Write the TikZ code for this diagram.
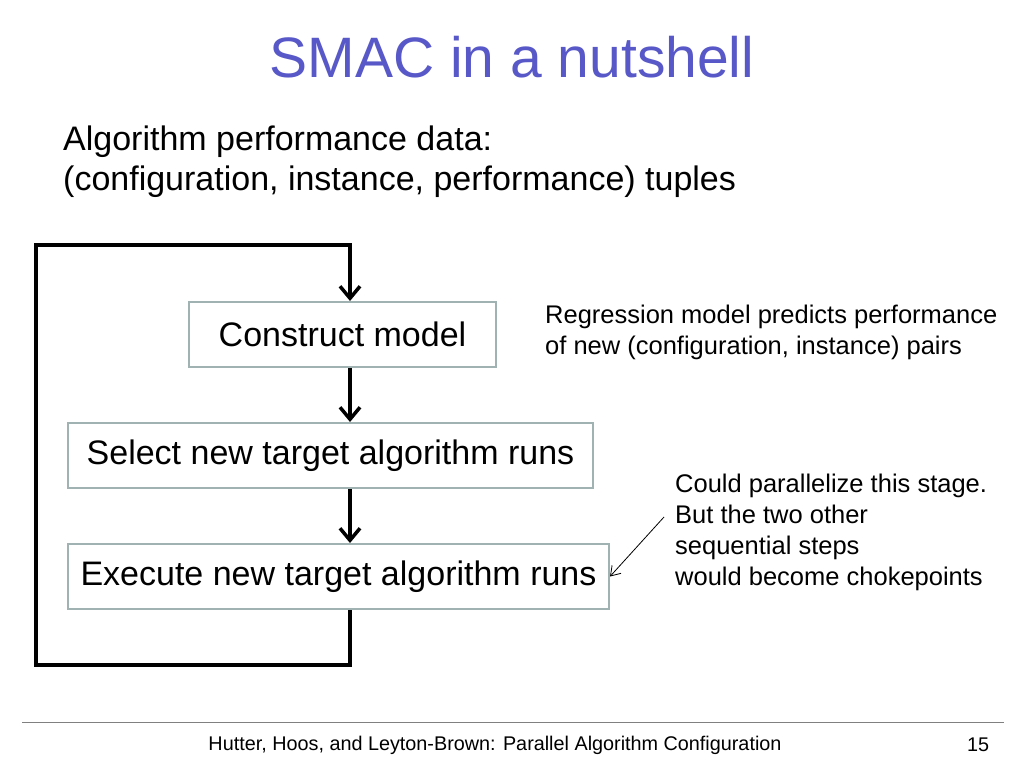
\documentclass[tikz,border=0pt]{standalone}
\usepackage{fontspec}
\setmainfont{Liberation Sans}
\usetikzlibrary{arrows.meta}
\definecolor{titleblue}{RGB}{88,88,200}
\definecolor{boxgray}{RGB}{160,178,178}
\tikzset{
  stagebox/.style={draw=boxgray,line width=2pt,inner sep=0pt,font=\fontsize{34}{38}\selectfont},
  loopline/.style={line width=4pt,-{Straight Barb[length=12pt,width=20pt,line width=3.5pt]}},
  note/.style={align=left,anchor=north west,inner sep=0pt,font=\fontsize{25.5}{31}\selectfont}
}
\begin{document}
\begin{tikzpicture}[x=1pt,y=-1pt]
  \useasboundingbox (0,0) rectangle (1024,768);
  \node[text=titleblue,font=\fontsize{57}{62}\selectfont] (title) at (512,57) {SMAC in a nutshell};
  \node[anchor=west,inner sep=0pt,font=\fontsize{34}{38}\selectfont] (data1) at (63,142) {Algorithm performance data:};
  \node[anchor=west,inner sep=0pt,font=\fontsize{34}{38}\selectfont] (data2) at (63,182) {(configuration, instance, performance) tuples};
  % stages
  \node[stagebox,minimum width=307pt,minimum height=65pt] (model) at (342.5,334.5) {Construct model};
  \node[stagebox,minimum width=525pt,minimum height=65pt] (select) at (330.5,455.5) {Select new target algorithm runs};
  \node[stagebox,minimum width=541pt,minimum height=65pt] (execute) at (338.5,576.5) {Execute new target algorithm runs};
  \coordinate (loopa) at (350,665);
  \coordinate (loopb) at (36,665);
  \coordinate (loopc) at (36,245);
  \coordinate (loopd) at (350,245);
  \draw[loopline] (execute.south -| loopa) -- (loopa) -- (loopb) -- (loopc) -- (loopd) -- (loopd |- model.north);
  \draw[loopline] (model.south -| loopa) -- (loopa |- select.north);
  \draw[loopline] (select.south -| loopa) -- (loopa |- execute.north);
  % notes
  \node[note] (regr) at (545,305) {Regression model predicts performance\\of new (configuration, instance) pairs};
  \node[note] (par) at (675,474) {Could parallelize this stage.\\But the two other\\sequential steps\\would become chokepoints};
  \coordinate (parend) at (664,517);
  \draw[line width=0.8pt,-{Straight Barb[length=9pt,width=12pt]}] (parend) -- (execute.east);
  % footer
  \coordinate (rulel) at (22,722);
  \coordinate (ruler) at (1004,722);
  \draw[gray,line width=0.8pt] (rulel) -- (ruler);
  \node[font=\fontsize{19.8}{23}\selectfont] (foot) at (495,745) {Hutter, Hoos, and Leyton-Brown: Parallel Algorithm Configuration};
  \node[font=\fontsize{19.8}{23}\selectfont] (page) at (978,745) {15};
\end{tikzpicture}
\end{document}
